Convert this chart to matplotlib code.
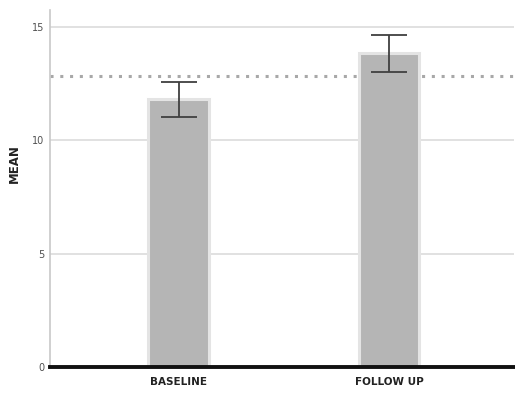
import matplotlib
matplotlib.use("Agg")
import matplotlib.pyplot as plt

categories = ["BASELINE", "FOLLOW UP"]
means = [11.82, 13.85]
err_low = [11.03, 13.01]
err_high = [12.57, 14.67]
reference_line = 12.84
yticks = [0, 5, 10, 15]

fig = plt.figure(figsize=(5.15, 3.94), dpi=100)
ax = fig.add_axes([0.097, 0.0685, 0.901, 0.906])

x = list(range(len(categories)))
ax.bar(x, means, width=0.29, color="#b5b5b5", edgecolor="#e4e4e4",
       linewidth=2.2, zorder=3)
yerr = [[m - lo for m, lo in zip(means, err_low)],
        [hi - m for m, hi in zip(means, err_high)]]
ax.errorbar(x, means, yerr=yerr, fmt="none", ecolor="#404040",
            elinewidth=1.3, capsize=13, capthick=1.3, zorder=4)
ax.axhline(reference_line, color="#a8a8a8", linestyle=(0, (1, 2.2)),
           linewidth=2.2, zorder=2)

ax.set_xlim(-0.614, 1.595)
ax.set_ylim(0, 15.75)
ax.set_yticks(yticks)
ax.set_yticklabels([str(t) for t in yticks], fontsize=7, color="#505050")
ax.set_xticks(x)
ax.set_xticklabels(categories, fontsize=7.5, fontweight="bold", color="#222222")
ax.tick_params(axis="both", length=0)
ax.tick_params(axis="y", pad=4)
ax.tick_params(axis="x", pad=7)
ax.grid(axis="y", color="#d9d9d9", linewidth=1.1, zorder=0)
ax.set_axisbelow(True)

for s in ["top", "right"]:
    ax.spines[s].set_visible(False)
ax.spines["left"].set_color("#c8c8c8")
ax.spines["left"].set_linewidth(1.2)
ax.spines["bottom"].set_color("#111111")
ax.spines["bottom"].set_linewidth(2.8)
ax.spines["bottom"].set_zorder(5)

ax.set_ylabel("MEAN", fontsize=8.5, fontweight="bold", color="#222222")
ax.yaxis.set_label_coords(-0.062, 0.57)

fig.savefig("out.png", dpi=100)
